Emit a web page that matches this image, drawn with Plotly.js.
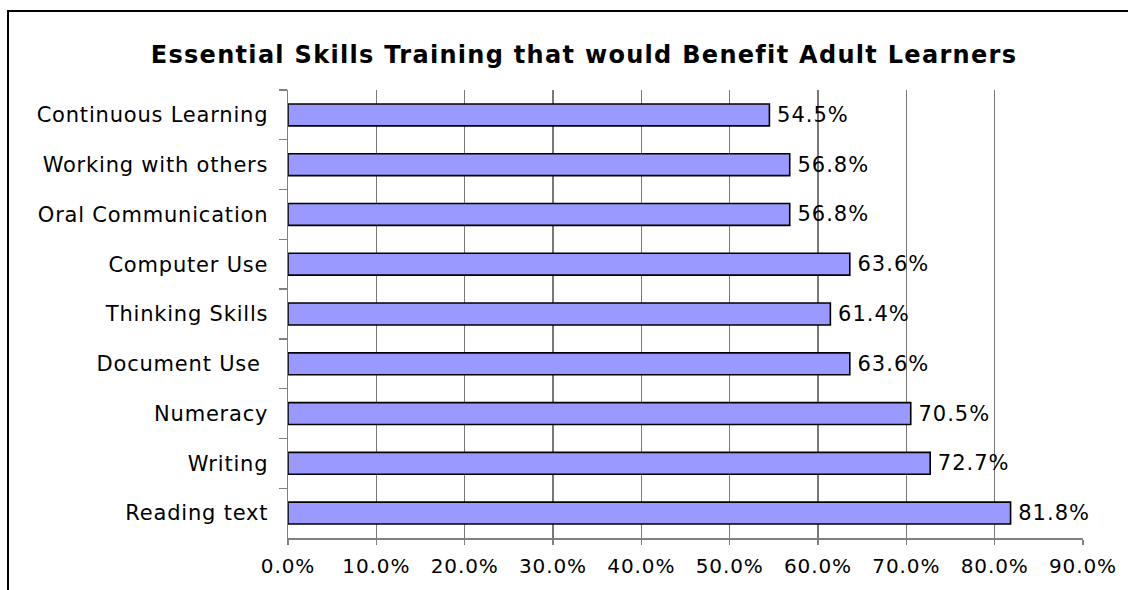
<!DOCTYPE html>
<html>
<head>
<meta charset="utf-8">
<script src="https://cdn.plot.ly/plotly-3.0.1.min.js"></script>
<style>
html,body{margin:0;padding:0;background:#fff;}
#chart{width:1128px;height:590px;}
#chart .gtitle{letter-spacing:1.3px;}
#chart .ytick text{letter-spacing:0.8px;}
#chart .xtick text{letter-spacing:0.9px;}
#chart .bartext{letter-spacing:1px;}
</style>
</head>
<body>
<div id="chart"></div>
<script>
var categories = ["Continuous Learning","Working with others","Oral Communication","Computer Use","Thinking Skills","Document Use ","Numeracy","Writing","Reading text"];
var values = [0.545,0.568,0.568,0.636,0.614,0.636,0.705,0.727,0.818];
var tickValues = [0,0.1,0.2,0.3,0.4,0.5,0.6,0.7,0.8,0.9];
var titleText = "Essential Skills Training that would Benefit Adult Learners";

var W = 1128, H = 590, L = 288, R = 45, T = 90, B = 52;
var pw = W - L - R, ph = H - T - B;
function px(x){return (x - L)/pw;}
function py(y){return (H - B - y)/ph;}

var trace = {
  type: 'bar', orientation: 'h',
  y: categories, x: values,
  marker: {color: '#9999FF', line: {color: '#000000', width: 1.6}},
  width: 0.44,
  text: values.map(function(v){return (v*100).toFixed(1)+'%';}),
  texttemplate: ' %{text}',
  textposition: 'outside',
  constraintext: 'none',
  textfont: {family: 'DejaVu Sans', size: 21, color: '#000'},
  cliponaxis: false,
  hoverinfo: 'none'
};

var layout = {
  width: W, height: H,
  margin: {l: L, r: R, t: T, b: B},
  paper_bgcolor: '#ffffff', plot_bgcolor: '#ffffff',
  showlegend: false,
  title: {text: '<b>' + titleText + '</b>', font: {family: 'DejaVu Sans', size: 24, color: '#000'},
          xref: 'container', x: 584/W, xanchor: 'center', yref: 'container', y: 1 - 55/H, yanchor: 'middle'},
  xaxis: {
    range: [0, 0.9], tickvals: tickValues, tickformat: '.1%',
    showgrid: true, gridcolor: '#787878', gridwidth: 1.2,
    showline: true, linecolor: '#808080', linewidth: 1.5,
    ticks: 'outside', ticklen: 5, tickcolor: '#808080', tickwidth: 1.3,
    ticklabelstandoff: 4,
    tickfont: {family: 'DejaVu Sans', size: 20, color: '#000'},
    zeroline: false, fixedrange: true
  },
  yaxis: {
    autorange: 'reversed', type: 'category',
    showline: true, linecolor: '#808080', linewidth: 1.5,
    ticks: 'outside', ticklen: 8, tickcolor: '#808080', tickwidth: 1.3, tickson: 'boundaries',
    showgrid: false, ticklabelstandoff: 14,
    tickfont: {family: 'DejaVu Sans', size: 21, color: '#000'},
    fixedrange: true
  },
  shapes: [{
    type: 'path', xref: 'paper', yref: 'paper',
    path: 'M ' + px(8) + ' ' + py(H+5) + ' L ' + px(8) + ' ' + py(11) + ' L ' + px(W+5) + ' ' + py(11),
    line: {color: '#000', width: 2}
  }]
};

Plotly.newPlot('chart', [trace], layout, {displayModeBar: false, staticPlot: true});
</script>
</body>
</html>
